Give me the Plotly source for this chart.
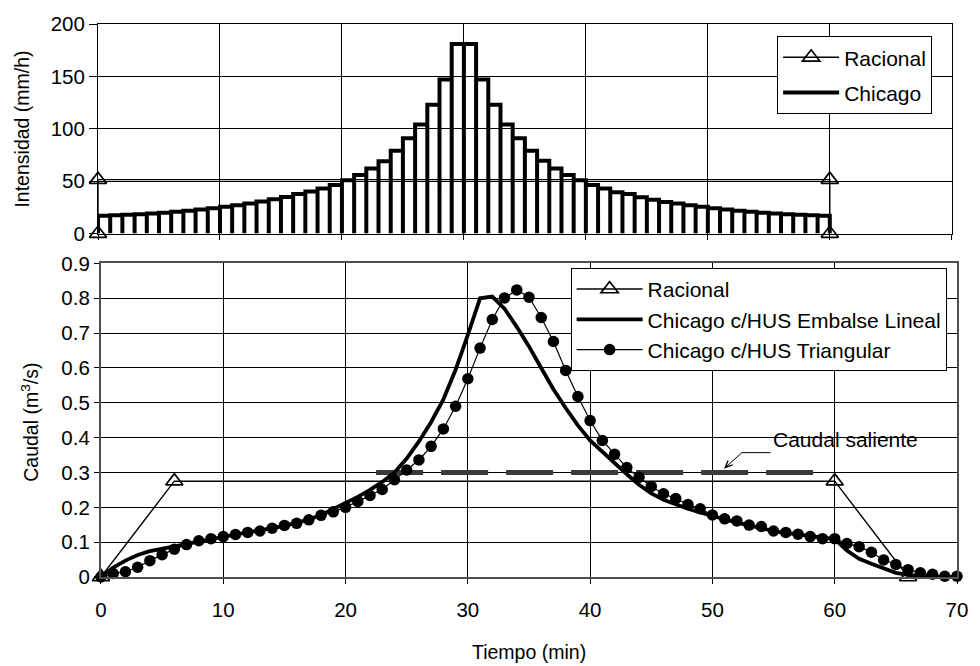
import plotly.graph_objects as go

# ---------------- data ----------------
# Chicago design storm, 1-min blocks from 0 to 60 min (mm/h)
chicago_intensity = [
    17.0, 17.4, 17.9, 18.5, 19.2, 20.0, 20.9, 21.9, 23.0, 24.2,
    25.5, 27.0, 28.7, 30.6, 32.7, 34.8, 37.8, 40.2, 43.0, 46.4,
    51.0, 56.0, 62.0, 69.0, 79.0, 91.0, 104.0, 123.0, 147.0, 181.0,
    181.0, 147.0, 123.0, 104.0, 91.0, 79.0, 69.5, 62.0, 56.0, 51.0,
    46.4, 43.0, 39.5, 37.7, 34.6, 32.4, 30.2, 28.7, 27.0, 25.5,
    24.2, 23.0, 21.9, 20.9, 20.0, 19.2, 18.5, 17.9, 17.4, 17.0,
]
block_minutes = 1.0

# Rational method: constant intensity over the storm duration
racional_i_t = [0, 0, 60, 60]
racional_i = [0, 51.5, 51.5, 0]

# Hydrographs (m3/s)
racional_q_t = [0, 6, 60, 66]
racional_q = [0, 0.275, 0.275, 0]

tiempo = list(range(0, 71))
q_embalse_lineal = [
    0.000, 0.027, 0.047, 0.063, 0.074, 0.081, 0.088, 0.095, 0.103, 0.110,
    0.116, 0.122, 0.128, 0.133, 0.140, 0.147, 0.155, 0.165, 0.178, 0.195,
    0.213, 0.230, 0.250, 0.273, 0.300, 0.340, 0.389, 0.445, 0.510, 0.595,
    0.695, 0.800, 0.805, 0.770, 0.718, 0.662, 0.600, 0.539, 0.485, 0.435,
    0.392, 0.359, 0.326, 0.295, 0.265, 0.240, 0.222, 0.208, 0.196, 0.185,
    0.175, 0.165, 0.156, 0.148, 0.140, 0.132, 0.127, 0.122, 0.118, 0.113,
    0.109, 0.076, 0.052, 0.038, 0.024, 0.012, 0.006, 0.002, 0.000, 0.000,
    0.000,
]
q_triangular = [
    0.000, 0.010, 0.015, 0.028, 0.047, 0.064, 0.080, 0.093, 0.104, 0.110,
    0.116, 0.122, 0.128, 0.132, 0.140, 0.148, 0.154, 0.164, 0.177, 0.187,
    0.200, 0.217, 0.234, 0.251, 0.279, 0.307, 0.336, 0.375, 0.425, 0.490,
    0.569, 0.657, 0.739, 0.801, 0.824, 0.803, 0.745, 0.676, 0.593, 0.518,
    0.449, 0.392, 0.352, 0.314, 0.286, 0.260, 0.239, 0.225, 0.208, 0.196,
    0.178, 0.167, 0.161, 0.149, 0.145, 0.132, 0.128, 0.123, 0.116, 0.110,
    0.110, 0.096, 0.087, 0.071, 0.049, 0.036, 0.021, 0.012, 0.008, 0.002,
    0.002,
]

# Outflow of the detention storage
saliente_t = [22.5, 58.5]
saliente_q = [0.30, 0.30]

x_ticks = [0, 10, 20, 30, 40, 50, 60, 70]

# ---------------- figure ----------------
FONT = "Liberation Sans, Arial, sans-serif"
BLACK = "#000000"

# outline of the hyetograph blocks: each block drawn up, across and down
hx, hy = [], []
for k, val in enumerate(chicago_intensity):
    x0 = k * block_minutes
    x1 = x0 + block_minutes
    if k == 0:
        hx += [x0]
        hy += [0]
    hx += [x0, x1, x1]
    hy += [val, val, 0]

tri_marker = dict(symbol="triangle-up-open", size=15, color=BLACK,
                  line=dict(width=1.7, color=BLACK))

fig = go.Figure()

# --- top panel: hyetographs ---
fig.add_trace(go.Scatter(
    x=racional_i_t, y=racional_i, name="Racional", mode="lines+markers",
    line=dict(color=BLACK, width=1.4), marker=tri_marker,
    cliponaxis=False, xaxis="x", yaxis="y", legend="legend", legendgroup="a",
))
fig.add_trace(go.Scatter(
    x=hx, y=hy, name="Chicago", mode="lines",
    line=dict(color=BLACK, width=4),
    xaxis="x", yaxis="y", legend="legend", legendgroup="b",
))

# --- bottom panel: hydrographs ---
fig.add_trace(go.Scatter(
    x=saliente_t, y=saliente_q, mode="lines", showlegend=False,
    line=dict(color="#3a3a3a", width=5, dash="47px,18px"),
    xaxis="x2", yaxis="y2",
))
fig.add_trace(go.Scatter(
    x=racional_q_t, y=racional_q, name="Racional", mode="lines+markers",
    line=dict(color=BLACK, width=1.4), marker=tri_marker,
    cliponaxis=False, xaxis="x2", yaxis="y2", legend="legend2",
))
fig.add_trace(go.Scatter(
    x=tiempo, y=q_embalse_lineal, name="Chicago c/HUS Embalse Lineal", mode="lines",
    line=dict(color=BLACK, width=3.8),
    cliponaxis=False, xaxis="x2", yaxis="y2", legend="legend2",
))
fig.add_trace(go.Scatter(
    x=tiempo, y=q_triangular, name="Chicago c/HUS Triangular", mode="lines+markers",
    line=dict(color=BLACK, width=1.2),
    marker=dict(symbol="circle", size=11.5, color=BLACK),
    cliponaxis=False, xaxis="x2", yaxis="y2", legend="legend2",
))

axis_common = dict(
    showgrid=True, gridcolor=BLACK, gridwidth=1,
    zeroline=False, showline=True, mirror=True,
    ticks="outside", tickcolor=BLACK,
    tickfont=dict(family=FONT, size=20.5, color=BLACK),
)

fig.update_layout(
    width=980, height=666,
    margin=dict(l=98, r=13, t=17, b=89),
    paper_bgcolor="white", plot_bgcolor="white",
    font=dict(family=FONT, size=20, color=BLACK),
    xaxis=dict(axis_common, domain=[0, 0.9939], range=[0, 70], tickvals=x_ticks,
               showticklabels=False, ticklen=5, linecolor=BLACK, linewidth=1, anchor="y"),
    yaxis=dict(axis_common, domain=[0.621, 1], range=[0, 200], dtick=50, tick0=0,
               ticklen=8, linecolor=BLACK, linewidth=1, anchor="x"),
    xaxis2=dict(axis_common, domain=[0.00345, 1], range=[0, 70], tickvals=x_ticks,
                ticklen=5, linecolor="#505050", linewidth=2, anchor="y2",
                ticklabelstandoff=8),
    yaxis2=dict(axis_common, domain=[0, 0.567], range=[0, 0.9], dtick=0.1, tick0=0,
                ticklen=5, linecolor="#505050", linewidth=2, anchor="x2"),
    legend=dict(
        x=0.7906, y=0.9780, xanchor="left", yanchor="top",
        bgcolor="white", bordercolor=BLACK, borderwidth=1,
        font=dict(family=FONT, size=21, color=BLACK),
        itemwidth=56, traceorder="grouped", tracegroupgap=5,
    ),
    legend2=dict(
        x=0.5502, y=0.5590, xanchor="left", yanchor="top",
        bgcolor="white", bordercolor=BLACK, borderwidth=1,
        font=dict(family=FONT, size=21, color=BLACK),
        itemwidth=66, tracegroupgap=0,
    ),
    showlegend=True,
)

# axis titles
fig.add_annotation(text="Intensidad (mm/h)", xref="paper", yref="paper",
                   x=(21 - 98) / 869, y=(577 - 123) / 560, textangle=-90,
                   showarrow=False, font=dict(size=19.5), xanchor="center", yanchor="middle")
fig.add_annotation(text="Caudal (m<sup>3</sup>/s)", xref="paper", yref="paper",
                   x=(29 - 98) / 869, y=(577 - 420) / 560, textangle=-90,
                   showarrow=False, font=dict(size=19.5), xanchor="center", yanchor="middle")
fig.add_annotation(text="Tiempo (min)", xref="paper", yref="paper",
                   x=(534 - 98) / 869, y=(577 - 653) / 560,
                   showarrow=False, font=dict(size=19.5), xanchor="center", yanchor="middle")

# label for the outflow line with a bent leader and an open arrowhead
fig.add_annotation(text="Caudal saliente", xref="x2", yref="y2", x=60.9, y=0.395,
                   showarrow=False, font=dict(size=21), xanchor="center", yanchor="middle")
fig.add_shape(type="path", xref="x2", yref="y2",
              path="M 54.75 0.357 L 52.41 0.357 L 51.04 0.3138",
              line=dict(color=BLACK, width=1))
fig.add_shape(type="path", xref="x2", yref="y2",
              path="M 51.65 0.3216 L 51.04 0.3138 L 51.28 0.3346",
              line=dict(color=BLACK, width=1.3))

fig.write_html("out.html")
